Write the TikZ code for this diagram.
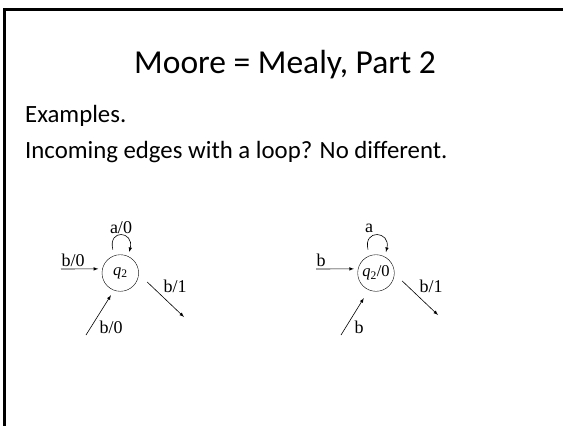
\documentclass[tikz,border=0pt]{standalone}
\usepackage{fontspec}
\setmainfont{Carlito}
\newfontfamily\labelfont{Liberation Serif}
\usetikzlibrary{calc}

\begin{document}
\begin{tikzpicture}[x=1pt,y=-1pt,
  state/.style={draw,circle,minimum size=36.6pt,inner sep=0pt,font=\labelfont\fontsize{16.5}{18}\selectfont},
  lbl/.style={inner sep=0pt,font=\labelfont\fontsize{18}{20}\selectfont},
  slidetext/.style={inner sep=0pt,anchor=base west,font=\fontsize{24.8}{28}\selectfont},
  trans/.style={-latex,semithick}]
\useasboundingbox (0,0) rectangle (563,426);
% slide frame
\draw[line width=2.5pt] (3.25,9.5)--(563,9.5);
\draw[line width=2.5pt] (4.5,8.25)--(4.5,426);
\node[inner sep=0pt,anchor=base,font=\fontsize{33.5}{38}\selectfont] (title) at (285,73) {Moore = Mealy, Part 2};
\node[slidetext] (ex) at (25,122.3) {Examples.};
\node[slidetext] (inc) at (25,158) {Incoming edges with a loop? No different.};

% Mealy machine
\node[state] (ql) at (120.3,273) {\textit{q}\textsubscript{2}};
\coordinate (li) at (61,269);
\coordinate (lb) at (86,335);
\coordinate (lo) at (184,317);
\draw[trans,shorten >=4pt] (li) -- (ql.167);
\draw[trans,shorten >=5.7pt] (lb) -- (ql.250);
\draw[trans,shorten <=11.6pt] (ql.-3) -- (lo);
\draw[trans] ($(ql.north)+(-7.5,-5)$) .. controls +(-5,-21) and +(5,-21) .. ($(ql.north)+(9,-2.5)$);
\node[lbl] at (73,260) {b/0};
\node[lbl] at (121,228) {a/0};
\node[lbl] at (175,286) {b/1};
\node[lbl] at (111,327) {b/0};

% Moore machine
\node[state] (qr) at (376,273) {\textit{q}\textsubscript{2}/0};
\coordinate (ri) at (316,269);
\coordinate (rb) at (341,335);
\coordinate (ro) at (438,315);
\draw[trans,shorten >=4pt] (ri) -- (qr.167);
\draw[trans,shorten >=9.5pt] (rb) -- (qr.247.5);
\draw[trans,shorten <=10.6pt] (qr.-2) -- (ro);
\draw[trans] ($(qr.north)+(-8,-5)$) .. controls +(-5,-21) and +(5,-21) .. ($(qr.north)+(10,-2.5)$);
\node[lbl] at (321,260) {b};
\node[lbl] at (369,228) {a};
\node[lbl] at (431,286) {b/1};
\node[lbl] at (359,327) {b};
\end{tikzpicture}
\end{document}
